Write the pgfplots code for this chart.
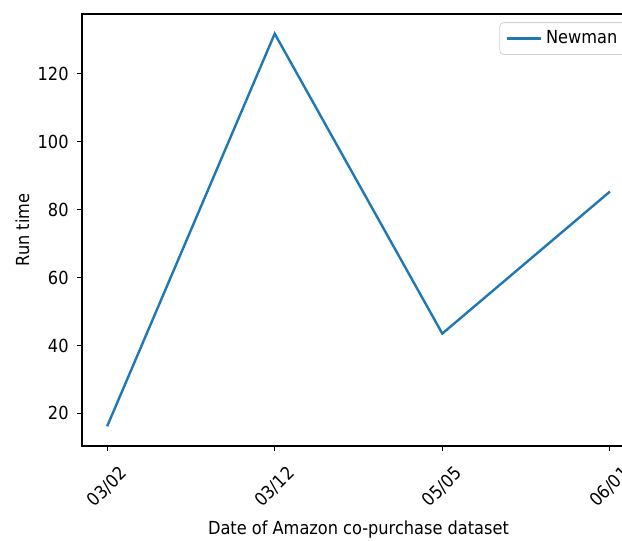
\documentclass[border=0pt]{standalone}
\usepackage{pgfplots}
\pgfplotsset{compat=1.18}
\usepackage{fontspec}
\setmainfont{DejaVu Sans Condensed}
\definecolor{mplblue}{HTML}{1F77B4}
\begin{document}
\fontsize{9}{11}\selectfont
\begin{tikzpicture}[x=1pt,y=1pt]
\path[use as bounding box, clip] (0,0) rectangle (311,-270.5);
\begin{axis}[
  at={(41pt,-223pt)}, anchor=south west,
  scale only axis, width=276.5pt, height=216pt,
  xmin=-0.15, xmax=3.15, ymin=10.4, ymax=137.6,
  xtick={0,1,2,3}, xticklabels={03/02,03/12,05/05,06/01},
  ytick={20,40,60,80,100,120},
  tick pos=left, tick align=outside,
  major tick length=2.5pt,
  tick style={black, line width=0.5pt},
  axis line style={black, line width=0.6pt},
  /pgf/number format/assume math mode=true,
  ticklabel style={font=\fontsize{9}{11}\selectfont},
  xticklabel style={anchor=center, yshift=-18pt, rotate=45},
  yticklabel style={xshift=-1pt},
  xlabel={Date of Amazon co-purchase dataset},
  ylabel={Run time},
  label style={font=\fontsize{9}{11}\selectfont},
  xlabel style={at={(0.5,0)}, anchor=center, yshift=-42pt},
  ylabel style={at={(0,0.5)}, anchor=center, rotate=0, yshift=0pt},
  every axis y label/.style={at={(ticklabel cs:0.5)}, rotate=90, anchor=south, yshift=-2pt},
  legend style={at={(0.987,0.981)}, anchor=north east, draw=gray!35, rounded corners=2pt,
    font=\fontsize{9}{11}\selectfont, inner xsep=3pt, inner ysep=2pt},
  legend cell align=left,
  legend image code/.code={\draw[#1] (0pt,0pt) -- (17pt,0pt);},
]
\addplot[mplblue, line width=1.2pt] coordinates {(0,16.2) (1,131.8) (2,43.5) (3,85.3)};
\addlegendentry{Newman}
\end{axis}
\end{tikzpicture}
\end{document}
